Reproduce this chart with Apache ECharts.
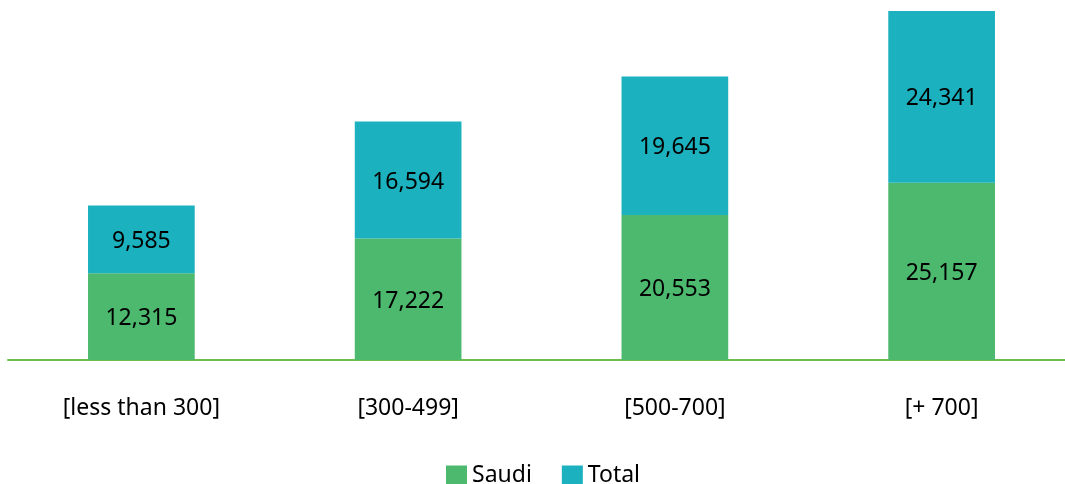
<!DOCTYPE html>
<html>
<head>
<meta charset="utf-8">
<script src="https://cdn.jsdelivr.net/npm/echarts@6/dist/echarts.min.js"></script>
<style>
  html, body { margin: 0; padding: 0; background: #fff; }
  #main { width: 1065px; height: 484px; }
</style>
</head>
<body>
<div id="main"></div>
<script>
// categories and series values
var categories = ['[less than 300]', '[300-499]', '[500-700]', '[+ 700]'];
var saudiValues = [12315, 17222, 20553, 25157];
var totalValues = [9585, 16594, 19645, 24341];

var myChart = echarts.init(document.getElementById('main'));

var labelStyle = {
  show: true,
  position: 'inside',
  offset: [0, 2],
  color: '#000',
  fontSize: 23,
  fontFamily: 'Noto Sans',
  formatter: function (p) {
    return p.value.toLocaleString('en-US');
  }
};

var option = {
  animation: false,
  textStyle: { fontFamily: 'Noto Sans' },
  grid: {
    left: 8,
    right: -10,
    top: 7.5,
    bottom: 124,
    outerBoundsMode: 'none'
  },
  legend: {
    data: ['Saudi', 'Total'],
    bottom: -3,
    left: 446,
    padding: 0,
    itemWidth: 21,
    itemHeight: 20,
    itemGap: 30,
    itemTextGap: 10,
    icon: 'rect',
    textStyle: { fontSize: 23, color: '#000', fontFamily: 'Noto Sans' }
  },
  xAxis: {
    type: 'category',
    data: categories,
    axisLine: { lineStyle: { color: '#6dbe4b', width: 2 } },
    axisTick: { show: false },
    axisLabel: {
      margin: 37,
      color: '#000',
      fontSize: 23,
      fontFamily: 'Noto Sans'
    }
  },
  yAxis: {
    type: 'value',
    min: 0,
    max: 50000,
    show: false,
    splitLine: { show: false }
  },
  series: [
    {
      name: 'Saudi',
      type: 'bar',
      stack: 'all',
      barWidth: '40%',
      data: saudiValues,
      itemStyle: { color: '#4cb96e' },
      label: labelStyle
    },
    {
      name: 'Total',
      type: 'bar',
      stack: 'all',
      barWidth: '40%',
      data: totalValues,
      itemStyle: { color: '#1bb1be' },
      label: labelStyle
    }
  ]
};

myChart.setOption(option);
</script>
</body>
</html>
